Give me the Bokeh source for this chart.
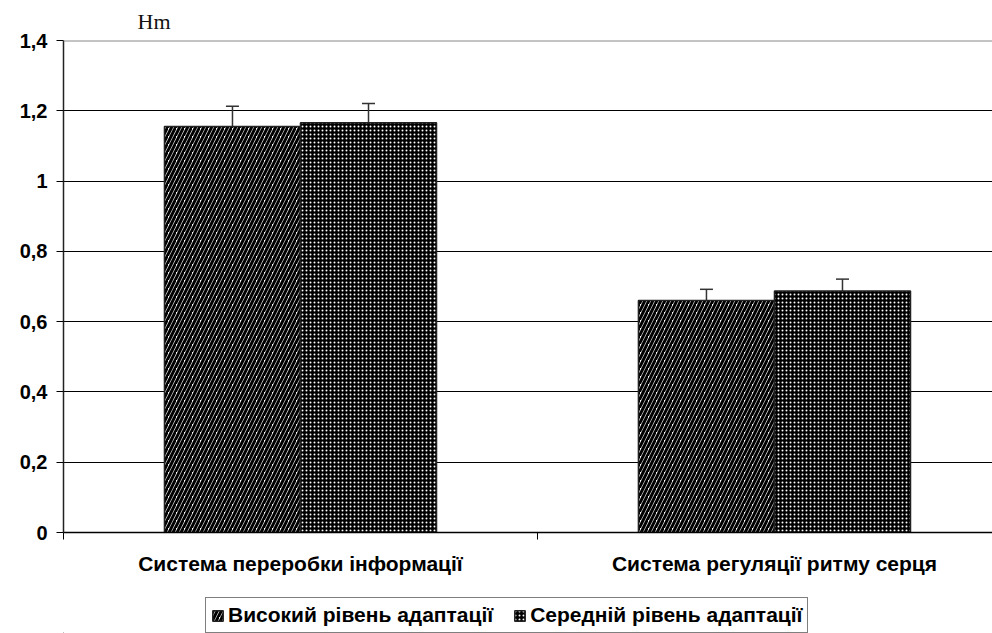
from bokeh.plotting import figure
from bokeh.layouts import column
from bokeh.models import (ColumnDataSource, FixedTicker, Whisker, TeeHead, Legend,
                          LegendItem, Span, Range1d)
from bokeh.embed import file_html
from bokeh.resources import INLINE

# ---- data ----
categories = ["Система переробки інформації", "Система регуляції ритму серця"]
series_names = ["Високий рівень адаптації", "Середній рівень адаптації"]
high_vals = [1.155, 0.660]
high_err = [0.058, 0.032]
mid_vals = [1.166, 0.687]
mid_err = [0.055, 0.034]
y_ticks = [0, 0.2, 0.4, 0.6, 0.8, 1.0, 1.2, 1.4]
y_tick_labels = ["0", "0,2", "0,4", "0,6", "0,8", "1", "1,2", "1,4"]
y_unit = "Hm"

centers = [i + 0.5 for i in range(len(categories))]
bar_w = 0.287
x_high = [c - bar_w / 2 for c in centers]
x_mid = [c + bar_w / 2 for c in centers]

FONT = "Liberation Sans"
HIGH_STYLE = dict(fill_color="white", hatch_pattern="/", hatch_color="black",
                  hatch_scale=8, hatch_weight=3, line_color="#222222", line_width=1.5)
MID_STYLE = dict(fill_color="black", hatch_pattern=".", hatch_color="white",
                 hatch_scale=4, hatch_weight=2.8, line_color="#222222", line_width=1.5)

p = figure(width=992, height=590, output_backend="svg", toolbar_location=None,
           x_range=Range1d(0, 1.96), y_range=Range1d(0, 1.4),
           min_border_left=63, min_border_right=0, min_border_top=40,
           min_border_bottom=58)
p.outline_line_color = None
p.background_fill_color = "white"
p.border_fill_color = "white"

p.title.text = y_unit
p.title.text_font = "Liberation Serif"
p.title.text_font_style = "normal"
p.title.text_font_size = "22px"
p.title.text_color = "#111111"
p.title.offset = 74
p.title.standoff = 13

# grid
p.xgrid.grid_line_color = None
p.ygrid.ticker = FixedTicker(ticks=y_ticks[1:-1])
p.ygrid.grid_line_color = "black"
p.ygrid.grid_line_width = 1.2

# top frame line (gray)
p.add_layout(Span(location=y_ticks[-1], dimension="width", line_color="#888888", line_width=2))

src_h = ColumnDataSource(dict(x=x_high, top=high_vals,
                              up=[v + e for v, e in zip(high_vals, high_err)],
                              lo=[v - e for v, e in zip(high_vals, high_err)]))
src_m = ColumnDataSource(dict(x=x_mid, top=mid_vals,
                              up=[v + e for v, e in zip(mid_vals, mid_err)],
                              lo=[v - e for v, e in zip(mid_vals, mid_err)]))

p.vbar(x="x", top="top", width=bar_w, bottom=0, source=src_h, **HIGH_STYLE)
p.vbar(x="x", top="top", width=bar_w, bottom=0, source=src_m, **MID_STYLE)

for src in (src_h, src_m):
    w = Whisker(base="x", upper="up", lower="lo", source=src,
                line_color="#333333", line_width=1.5,
                upper_head=TeeHead(size=13, line_color="#333333", line_width=1.5),
                lower_head=TeeHead(size=13, line_color="#333333", line_width=1.5))
    p.add_layout(w)

# axes
p.yaxis.ticker = FixedTicker(ticks=y_ticks)
p.yaxis.major_label_overrides = {t: l for t, l in zip(y_ticks, y_tick_labels)}
p.yaxis.minor_tick_line_color = None
p.yaxis.major_tick_in = 0
p.yaxis.major_tick_out = 7
p.yaxis.major_tick_line_color = "black"
p.yaxis.axis_line_color = "#222222"
p.yaxis.axis_line_width = 1.5
p.yaxis.major_label_text_font = FONT
p.yaxis.major_label_text_font_style = "bold"
p.yaxis.major_label_text_font_size = "20px"
p.yaxis.major_label_text_color = "black"
p.yaxis.major_label_standoff = 9

p.xaxis.ticker = FixedTicker(ticks=centers, minor_ticks=list(range(len(categories) + 1)))
p.xaxis.major_label_overrides = {c: n for c, n in zip(centers, categories)}
p.xaxis.major_tick_line_color = None
p.xaxis.major_tick_in = 0
p.xaxis.major_tick_out = 0
p.xaxis.minor_tick_in = 0
p.xaxis.minor_tick_out = 7
p.xaxis.minor_tick_line_color = "black"
p.xaxis.axis_line_color = "black"
p.xaxis.axis_line_width = 1.5
p.xaxis.major_label_text_font = FONT
p.xaxis.major_label_text_font_style = "bold"
p.xaxis.major_label_text_font_size = "21px"
p.xaxis.major_label_text_color = "black"
p.xaxis.major_label_standoff = 12

# ---- legend strip (same series, drawn outside its visible range) ----
p2 = figure(width=992, height=43, output_backend="svg", toolbar_location=None,
            x_range=Range1d(10, 11), y_range=Range1d(10, 11),
            x_axis_type=None, y_axis_type=None,
            min_border_left=0, min_border_right=0, min_border_top=0, min_border_bottom=0)
p2.outline_line_color = None
p2.xgrid.grid_line_color = None
p2.ygrid.grid_line_color = None
p2.background_fill_color = "white"
p2.border_fill_color = "white"
d_h = p2.vbar(x="x", top="top", width=bar_w, bottom=0, source=src_h, **HIGH_STYLE)
d_m = p2.vbar(x="x", top="top", width=bar_w, bottom=0, source=src_m, **MID_STYLE)

legend = Legend(items=[LegendItem(label=series_names[0], renderers=[d_h]),
                       LegendItem(label=series_names[1], renderers=[d_m])],
                orientation="horizontal", location=(142, 0),
                label_text_font=FONT, label_text_font_style="bold",
                label_text_font_size="21px", label_text_color="black",
                glyph_width=13, glyph_height=13, label_standoff=4, spacing=20,
                padding=5, margin=0, border_line_color="black", border_line_width=1.5,
                background_fill_color="white")
p2.add_layout(legend, "center")

layout = column(p, p2, spacing=0)
open("out.html", "w").write(file_html(layout, INLINE))
